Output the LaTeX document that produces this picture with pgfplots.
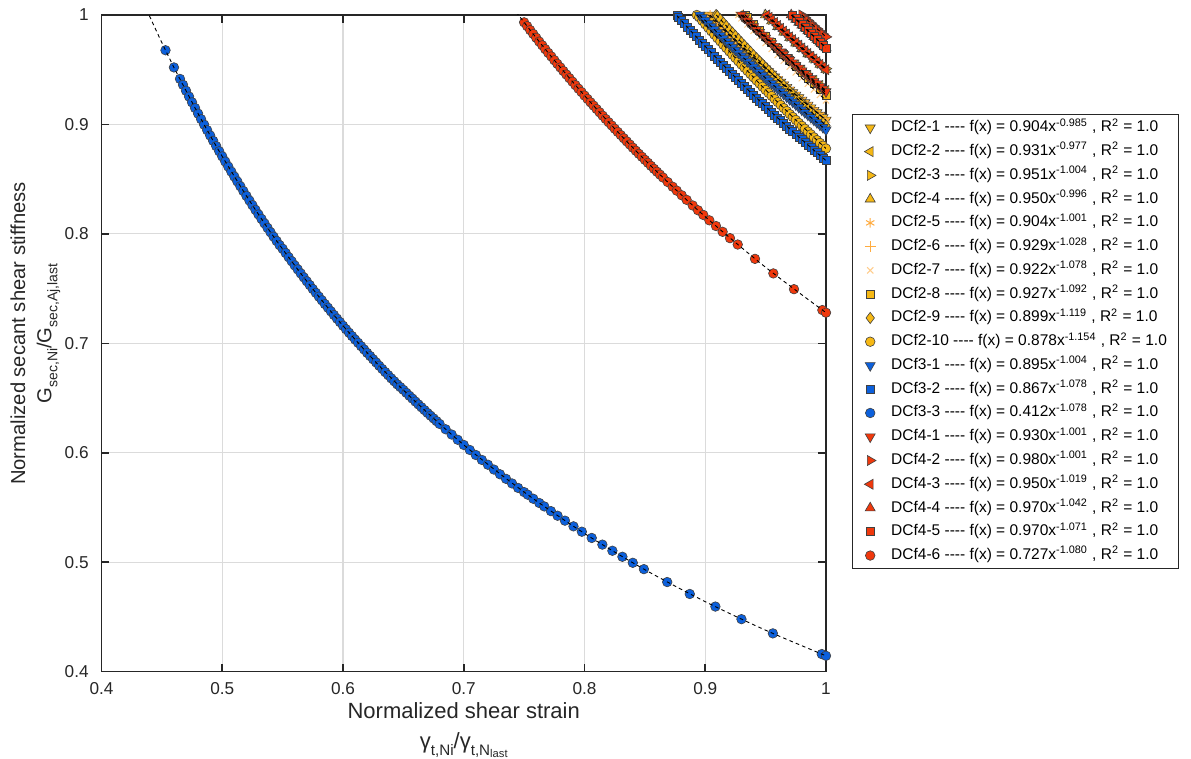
\documentclass[border=0pt]{standalone}
\usepackage{fontspec}
\setmainfont{Liberation Sans}
\usepackage{pgfplots}
\pgfplotsset{compat=1.18}
\usepackage{pgfplotstable}

\definecolor{cyel}{RGB}{246,184,20}
\definecolor{corg}{RGB}{255,172,64}
\definecolor{cblu}{RGB}{12,96,220}
\definecolor{cred}{RGB}{240,56,12}
\definecolor{caxis}{RGB}{38,38,38}

\newcommand\sub[1]{\raisebox{-0.3em}{\fontsize{7.6}{8}\selectfont #1}}
\newcommand\subs[1]{\raisebox{-0.3em}{\fontsize{7}{8}\selectfont #1}}
\newcommand\subsub[1]{\raisebox{-0.15em}{\fontsize{5.6}{6}\selectfont #1}}
\newcommand\dd{-{}-{}-{}-}
\newcommand\ent[3]{#1 \dd{} f(x) = #2x\textsuperscript{#3} , R\textsuperscript{2} = 1.0}

% DCf2-1
\pgfplotstableread{
x y
0.9026 1.0000
0.905 0.9975
0.9075 0.9948
0.910 0.9920
0.9125 0.9894
0.915 0.9867
0.9175 0.9841
0.920 0.9814
0.9225 0.9788
0.925 0.9762
0.9275 0.9736
0.930 0.9710
0.9325 0.9685
0.935 0.9659
0.9375 0.9634
0.940 0.9608
0.9425 0.9583
0.945 0.9558
0.9475 0.9533
0.950 0.9508
0.9525 0.9484
0.955 0.9460
0.9575 0.9436
0.960 0.9411
0.9625 0.9387
0.965 0.9363
0.9675 0.9339
0.970 0.9315
0.9725 0.9292
0.975 0.9269
0.9775 0.9246
0.980 0.9222
0.9825 0.9199
0.985 0.9176
0.9875 0.9153
0.990 0.9130
0.9925 0.9108
0.995 0.9085
0.9975 0.9063
1.000 0.9040
}\tabA
% DCf2-2
\pgfplotstableread{
x y
0.9294 1.0000
0.935 0.9942
0.940 0.9890
0.945 0.9839
0.950 0.9788
0.955 0.9739
0.960 0.9689
0.965 0.9640
0.970 0.9591
0.975 0.9543
0.980 0.9496
0.985 0.9449
0.990 0.9402
0.995 0.9356
1.000 0.9310
}\tabB
% DCf2-3
\pgfplotstableread{
x y
0.9512 1.0000
0.955 0.9960
0.960 0.9908
0.965 0.9857
0.970 0.9805
0.975 0.9755
0.980 0.9705
0.985 0.9656
0.990 0.9606
0.995 0.9558
1.000 0.9510
}\tabC
% DCf2-4
\pgfplotstableread{
x y
0.9498 1.0000
0.955 0.9946
0.960 0.9894
0.965 0.9843
0.970 0.9793
0.975 0.9743
0.980 0.9693
0.985 0.9645
0.990 0.9596
0.995 0.9548
1.000 0.9500
}\tabD
% DCf2-5
\pgfplotstableread{
x y
0.904 1.0000
0.910 0.9935
0.915 0.9881
0.920 0.9827
0.925 0.9774
0.930 0.9721
0.935 0.9669
0.940 0.9618
0.945 0.9567
0.950 0.9516
0.955 0.9467
0.960 0.9417
0.965 0.9369
0.970 0.9320
0.975 0.9273
0.980 0.9225
0.985 0.9178
0.990 0.9131
0.995 0.9086
1.000 0.9040
}\tabE
% DCf2-6
\pgfplotstableread{
x y
0.931 1.0000
0.935 0.9955
0.940 0.9900
0.945 0.9847
0.950 0.9793
0.955 0.9741
0.960 0.9688
0.965 0.9637
0.970 0.9586
0.975 0.9536
0.980 0.9485
0.985 0.9436
0.990 0.9386
0.995 0.9338
1.000 0.9290
}\tabF
% DCf2-7
\pgfplotstableread{
x y
0.9275 1.0000
0.930 0.9970
0.935 0.9913
0.940 0.9856
0.945 0.9800
0.950 0.9744
0.955 0.9690
0.960 0.9635
0.965 0.9582
0.970 0.9528
0.975 0.9476
0.980 0.9423
0.985 0.9372
0.990 0.9320
0.995 0.9270
1.000 0.9220
}\tabG
% DCf2-8
\pgfplotstableread{
x y
0.933 1.0000
0.935 0.9977
0.940 0.9918
0.945 0.9861
0.950 0.9804
0.955 0.9749
0.960 0.9693
0.965 0.9639
0.970 0.9584
0.975 0.9531
0.980 0.9477
0.985 0.9425
0.990 0.9372
0.995 0.9321
1.000 0.9270
}\tabH
% DCf2-9
\pgfplotstableread{
x y
0.909 1.0000
0.910 0.9991
0.9125 0.9961
0.915 0.9930
0.9175 0.9900
0.920 0.9869
0.9225 0.9840
0.925 0.9810
0.9275 0.9781
0.930 0.9751
0.9325 0.9722
0.935 0.9693
0.9375 0.9664
0.940 0.9634
0.9425 0.9606
0.945 0.9578
0.9475 0.9550
0.950 0.9521
0.9525 0.9494
0.955 0.9466
0.9575 0.9438
0.960 0.9410
0.9625 0.9383
0.965 0.9356
0.9675 0.9329
0.970 0.9302
0.9725 0.9276
0.975 0.9249
0.9775 0.9223
0.980 0.9196
0.9825 0.9170
0.985 0.9144
0.9875 0.9118
0.990 0.9092
0.9925 0.9067
0.995 0.9041
0.9975 0.9016
1.000 0.8990
}\tabI
% DCf2-10
\pgfplotstableread{
x y
0.893 1.0000
0.895 0.9980
0.8975 0.9948
0.900 0.9915
0.9025 0.9884
0.905 0.9852
0.9075 0.9821
0.910 0.9789
0.9125 0.9759
0.915 0.9728
0.9175 0.9698
0.920 0.9667
0.9225 0.9637
0.925 0.9607
0.9275 0.9577
0.930 0.9547
0.9325 0.9518
0.935 0.9489
0.9375 0.9460
0.940 0.9430
0.9425 0.9402
0.945 0.9373
0.9475 0.9344
0.950 0.9315
0.9525 0.9288
0.955 0.9260
0.9575 0.9232
0.960 0.9204
0.9625 0.9177
0.965 0.9149
0.9675 0.9122
0.970 0.9094
0.9725 0.9068
0.975 0.9041
0.9775 0.9014
0.980 0.8987
0.9825 0.8961
0.985 0.8935
0.9875 0.8909
0.990 0.8882
0.9925 0.8857
0.995 0.8831
0.9975 0.8806
1.000 0.8780
}\tabJ
% DCf3-1
\pgfplotstableread{
x y
0.8953 1.0000
0.8975 0.9976
0.900 0.9949
0.9025 0.9922
0.905 0.9894
0.9075 0.9867
0.910 0.9839
0.9125 0.9812
0.915 0.9785
0.9175 0.9758
0.920 0.9731
0.9225 0.9705
0.925 0.9679
0.9275 0.9653
0.930 0.9626
0.9325 0.9601
0.935 0.9575
0.9375 0.9550
0.940 0.9524
0.9425 0.9499
0.945 0.9474
0.9475 0.9449
0.950 0.9423
0.9525 0.9399
0.955 0.9374
0.9575 0.9349
0.960 0.9324
0.9625 0.9300
0.965 0.9276
0.9675 0.9252
0.970 0.9228
0.9725 0.9205
0.975 0.9181
0.9775 0.9157
0.980 0.9133
0.9825 0.9110
0.985 0.9087
0.9875 0.9064
0.990 0.9041
0.9925 0.9018
0.995 0.8995
0.9975 0.8973
1.000 0.8950
}\tabK
% DCf3-2
\pgfplotstableread{
x y
0.8765 0.9994
0.878 0.9976
0.880 0.9951
0.8825 0.9921
0.885 0.9891
0.8875 0.9861
0.890 0.9830
0.8925 0.9801
0.895 0.9772
0.8975 0.9743
0.900 0.9713
0.9025 0.9685
0.905 0.9656
0.9075 0.9627
0.910 0.9598
0.9125 0.9570
0.915 0.9542
0.9175 0.9514
0.920 0.9485
0.9225 0.9458
0.925 0.9430
0.9275 0.9403
0.930 0.9375
0.9325 0.9349
0.935 0.9322
0.9375 0.9295
0.940 0.9268
0.9425 0.9242
0.945 0.9216
0.9475 0.9190
0.950 0.9163
0.9525 0.9138
0.955 0.9112
0.9575 0.9086
0.960 0.9060
0.9625 0.9035
0.965 0.9010
0.9675 0.8985
0.970 0.8959
0.9725 0.8935
0.975 0.8910
0.9775 0.8886
0.980 0.8861
0.9825 0.8837
0.985 0.8813
0.9875 0.8789
0.990 0.8764
0.9925 0.8741
0.995 0.8717
0.9975 0.8694
1.000 0.8670
}\tabL
% DCf3-3
\pgfplotstableread{
x y
0.453 0.9678
0.460 0.9521
0.465 0.9416
0.4675 0.9362
0.470 0.9308
0.4725 0.9255
0.475 0.9202
0.4775 0.9150
0.480 0.9099
0.4825 0.9048
0.485 0.8998
0.4875 0.8948
0.490 0.8899
0.4925 0.8850
0.495 0.8802
0.4975 0.8755
0.500 0.8708
0.5025 0.8661
0.505 0.8615
0.5075 0.8569
0.510 0.8524
0.5125 0.8479
0.515 0.8435
0.5175 0.8391
0.520 0.8348
0.5225 0.8305
0.525 0.8262
0.5275 0.8220
0.530 0.8178
0.5325 0.8137
0.535 0.8096
0.5375 0.8055
0.540 0.8015
0.5425 0.7975
0.545 0.7936
0.5475 0.7897
0.550 0.7864
0.5525 0.7826
0.555 0.7787
0.5575 0.7750
0.560 0.7712
0.5625 0.7676
0.565 0.7639
0.5675 0.7603
0.570 0.7567
0.5725 0.7532
0.575 0.7496
0.5775 0.7462
0.580 0.7427
0.5825 0.7393
0.585 0.7359
0.5875 0.7326
0.590 0.7292
0.5925 0.7259
0.595 0.7226
0.5975 0.7194
0.600 0.7161
0.6025 0.7129
0.605 0.7097
0.6075 0.7066
0.610 0.7035
0.6125 0.7005
0.615 0.6974
0.6175 0.6944
0.620 0.6913
0.6225 0.6884
0.625 0.6854
0.6275 0.6825
0.630 0.6795
0.6325 0.6766
0.635 0.6737
0.6375 0.6709
0.640 0.6680
0.6425 0.6653
0.645 0.6625
0.6475 0.6600
0.650 0.6575
0.6525 0.6548
0.655 0.6521
0.6575 0.6495
0.660 0.6468
0.6625 0.6442
0.665 0.6416
0.6675 0.6390
0.670 0.6364
0.6725 0.6339
0.675 0.6314
0.6775 0.6289
0.680 0.6264
0.685 0.6215
0.690 0.6167
0.695 0.6119
0.700 0.6072
0.705 0.6026
0.710 0.5980
0.715 0.5935
0.720 0.5891
0.725 0.5847
0.730 0.5804
0.735 0.5762
0.740 0.5720
0.745 0.5679
0.750 0.5641
0.753 0.5617
0.7576 0.5580
0.7626 0.5541
0.7667 0.5510
0.7722 0.5467
0.7777 0.5425
0.7838 0.5380
0.7909 0.5328
0.7978 0.5279
0.806 0.5222
0.8148 0.5161
0.8231 0.5105
0.8314 0.5050
0.840 0.4995
0.8492 0.4937
0.8685 0.4819
0.8872 0.4710
0.9084 0.4595
0.930 0.4480
0.956 0.4350
0.9965 0.4161
1.000 0.4145
}\tabM
\pgfplotstableread{
x y
0.435 1.0107
0.44 0.9985
0.45 0.9747
0.46 0.9521
0.47 0.9308
0.48 0.9099
0.49 0.8899
0.50 0.8708
0.52 0.8348
0.54 0.8015
0.56 0.7712
0.58 0.7427
0.60 0.7161
0.63 0.6795
0.66 0.6468
0.70 0.6072
0.75 0.5641
0.80 0.5263
0.85 0.4932
0.90 0.4640
0.95 0.4379
1.00 0.4145
}\fitM
% DCf4-1
\pgfplotstableread{
x y
0.930 1.0000
0.9325 0.9974
0.935 0.9947
0.9375 0.9921
0.940 0.9894
0.9425 0.9868
0.945 0.9842
0.9475 0.9816
0.950 0.9790
0.9525 0.9765
0.955 0.9739
0.9575 0.9714
0.960 0.9688
0.9625 0.9663
0.965 0.9638
0.9675 0.9613
0.970 0.9588
0.9725 0.9564
0.975 0.9539
0.9775 0.9515
0.980 0.9490
0.9825 0.9466
0.985 0.9442
0.9875 0.9418
0.990 0.9394
0.9925 0.9371
0.995 0.9347
0.9975 0.9324
1.000 0.9300
}\tabN
% DCf4-2
\pgfplotstableread{
x y
0.980 1.0000
0.9825 0.9975
0.985 0.9950
0.9875 0.9925
0.990 0.9899
0.9925 0.9875
0.995 0.9850
0.9975 0.9825
1.000 0.9800
}\tabO
% DCf4-3
\pgfplotstableread{
x y
0.951 1.0000
0.953 0.9979
0.955 0.9957
0.9575 0.9931
0.960 0.9904
0.9625 0.9878
0.965 0.9852
0.9675 0.9826
0.970 0.9800
0.9725 0.9775
0.975 0.9749
0.9775 0.9724
0.980 0.9698
0.9825 0.9673
0.985 0.9648
0.9875 0.9623
0.990 0.9598
0.9925 0.9574
0.995 0.9549
0.9975 0.9525
1.000 0.9500
}\tabP
% DCf4-4
\pgfplotstableread{
x y
0.9712 1.0000
0.973 0.9981
0.975 0.9960
0.9775 0.9933
0.980 0.9906
0.9825 0.9880
0.985 0.9854
0.9875 0.9828
0.990 0.9802
0.9925 0.9777
0.995 0.9751
0.9975 0.9726
1.000 0.9700
}\tabQ
% DCf4-5
\pgfplotstableread{
x y
0.972 1.0000
0.975 0.9967
0.9775 0.9940
0.980 0.9912
0.9825 0.9886
0.985 0.9859
0.9875 0.9832
0.990 0.9805
0.9925 0.9779
0.995 0.9753
0.9975 0.9727
1.000 0.9700
}\tabR
% DCf4-6
\pgfplotstableread{
x y
0.7500 0.9933
0.7525 0.9898
0.7550 0.9862
0.7575 0.9827
0.7600 0.9792
0.7625 0.9757
0.7650 0.9723
0.7675 0.9688
0.7700 0.9654
0.7725 0.9621
0.7750 0.9587
0.7775 0.9554
0.7800 0.9521
0.7825 0.9488
0.7850 0.9456
0.7875 0.9423
0.7900 0.9391
0.7925 0.9359
0.7950 0.9327
0.7975 0.9296
0.8000 0.9264
0.8025 0.9233
0.8050 0.9202
0.8075 0.9172
0.8100 0.9141
0.8125 0.9111
0.8150 0.9080
0.8175 0.9050
0.8200 0.9020
0.8225 0.8991
0.8250 0.8961
0.8275 0.8932
0.8300 0.8903
0.8325 0.8874
0.8350 0.8845
0.8375 0.8817
0.8400 0.8788
0.8425 0.8760
0.8450 0.8732
0.8475 0.8705
0.8500 0.8677
0.8525 0.8650
0.8550 0.8622
0.8575 0.8595
0.8600 0.8568
0.8625 0.8542
0.8650 0.8515
0.8689 0.8474
0.8730 0.8431
0.8764 0.8395
0.8805 0.8353
0.8846 0.8311
0.8896 0.8260
0.8940 0.8216
0.8984 0.8173
0.9034 0.8124
0.9089 0.8072
0.9144 0.8019
0.9205 0.7961
0.9269 0.7903
0.9412 0.7772
0.9564 0.7639
0.9735 0.7495
0.9970 0.7304
1.0000 0.7280
}\tabS
\pgfplotstableread{
x y
0.74 1.0078
0.75 0.9933
0.77 0.9654
0.80 0.9264
0.83 0.8903
0.86 0.8568
0.90 0.8157
0.95 0.7695
1.00 0.7280
}\fitS

\pgfplotsset{
  mk/.style n args={3}{only marks, color=#1, mark=#2, mark size=#3,
    mark options={fill=#1, draw=black!75, line width=0.3pt}},
  lmk/.style n args={2}{only marks, color=corg, mark=#1, mark size=#2,
    mark options={line width=0.5pt}},
  fitln/.style={black, line width=0.45pt, dash pattern=on 1.8pt off 1.6pt, forget plot},
}

\begin{document}
\begin{tikzpicture}
\useasboundingbox (-50.75pt,-43.65pt) rectangle (544.75pt,335.85pt);
\begin{axis}[
  at={(0,0)}, anchor=south west,
  scale only axis, width=362.25pt, height=328.35pt,
  xmin=0.4, xmax=1, ymin=0.4, ymax=1,
  xtick={0.4,0.5,0.6,0.7,0.8,0.9,1},
  ytick={0.4,0.5,0.6,0.7,0.8,0.9,1},
  grid=major, major grid style={line width=0.6pt, color=black!14},
  axis line style={line width=0.8pt, color=caxis},
  tick style={line width=0.8pt, color=caxis},
  tick align=inside, major tick length=4pt,
  xtick pos=both, ytick pos=both,
  clip mode=individual,
  /pgf/number format/assume math mode=true,
  ticklabel style={font=\fontsize{8.6}{10}\selectfont, color=caxis},
  xticklabel style={inner sep=0pt, yshift=-5.15pt},
  yticklabel style={inner sep=0pt, xshift=-6.25pt},
  xlabel={Normalized shear strain\\γ\sub{t,Ni}/γ\sub{t,N\subsub{last}}},
  xlabel style={at={(rel axis cs:0.5,0)}, anchor=north, yshift=-15.4pt,
    inner sep=0pt, align=center, font=\fontsize{11}{14.8}\selectfont, color=caxis},
  ylabel={Normalized secant shear stiffness\\G\subs{sec,Ni}/G\subs{sec,Aj,last}},
  ylabel style={at={(rel axis cs:-0.1263,0.515)}, anchor=north, rotate=0,
    inner sep=0pt, align=center, font=\fontsize{10.1}{13.2}\selectfont, color=caxis},
  legend style={at={(rel axis cs:1.0355,0.849)}, anchor=north west,
    draw=caxis, line width=0.5pt, fill=white,
    font=\fontsize{7.75}{9.3}\selectfont, inner xsep=6pt, inner ysep=2.6pt,
    row sep=3.88pt, column sep=0pt,
    nodes={inner sep=0pt, text height=6pt, text depth=2pt}},
  legend cell align=left,
  legend image code/.code={%
    \path[#1, draw=none] plot coordinates {(3pt,0pt)};
    \path[draw=none, fill=none] (0pt,0pt) -- (13.5pt,0pt);},
]
\addplot[mk={cyel}{triangle*}{2.9pt}, every mark/.append style={rotate=180}] table {\tabA};
\addlegendentry{\ent{DCf2-1}{0.904}{-0.985}}
\addplot[mk={cyel}{triangle*}{2.9pt}, every mark/.append style={rotate=90}] table {\tabB};
\addlegendentry{\ent{DCf2-2}{0.931}{-0.977}}
\addplot[mk={cyel}{triangle*}{2.9pt}, every mark/.append style={rotate=-90}] table {\tabC};
\addlegendentry{\ent{DCf2-3}{0.951}{-1.004}}
\addplot[mk={cyel}{triangle*}{2.9pt}] table {\tabD};
\addlegendentry{\ent{DCf2-4}{0.950}{-0.996}}
\addplot[lmk={asterisk}{2.4pt}] table {\tabE};
\addlegendentry{\ent{DCf2-5}{0.904}{-1.001}}
\addplot[lmk={+}{2.7pt}] table {\tabF};
\addlegendentry{\ent{DCf2-6}{0.929}{-1.028}}
\addplot[lmk={x}{2.2pt}, color=corg!60] table {\tabG};
\addlegendentry{\ent{DCf2-7}{0.922}{-1.078}}
\addplot[mk={cyel}{square*}{2pt}] table {\tabH};
\addlegendentry{\ent{DCf2-8}{0.927}{-1.092}}
\addplot[mk={cyel}{diamond*}{2.8pt}] table {\tabI};
\addlegendentry{\ent{DCf2-9}{0.899}{-1.119}}
\addplot[mk={cyel}{*}{2.4pt}] table {\tabJ};
\addlegendentry{\ent{DCf2-10}{0.878}{-1.154}}
\addplot[mk={cblu}{triangle*}{2.9pt}, every mark/.append style={rotate=180}] table {\tabK};
\addlegendentry{\ent{DCf3-1}{0.895}{-1.004}}
\addplot[mk={cblu}{square*}{2pt}] table {\tabL};
\addlegendentry{\ent{DCf3-2}{0.867}{-1.078}}
\addplot[mk={cblu}{*}{2.4pt}] table {\tabM};
\addlegendentry{\ent{DCf3-3}{0.412}{-1.078}}
\addplot[mk={cred}{triangle*}{2.9pt}, every mark/.append style={rotate=180}] table {\tabN};
\addlegendentry{\ent{DCf4-1}{0.930}{-1.001}}
\addplot[mk={cred}{triangle*}{2.9pt}, every mark/.append style={rotate=-90}] table {\tabO};
\addlegendentry{\ent{DCf4-2}{0.980}{-1.001}}
\addplot[mk={cred}{triangle*}{2.9pt}, every mark/.append style={rotate=90}] table {\tabP};
\addlegendentry{\ent{DCf4-3}{0.950}{-1.019}}
\addplot[mk={cred}{triangle*}{2.9pt}] table {\tabQ};
\addlegendentry{\ent{DCf4-4}{0.970}{-1.042}}
\addplot[mk={cred}{square*}{2pt}] table {\tabR};
\addlegendentry{\ent{DCf4-5}{0.970}{-1.071}}
\addplot[mk={cred}{*}{2.4pt}] table {\tabS};
\addlegendentry{\ent{DCf4-6}{0.727}{-1.080}}
% fitted power curves, drawn over the markers
\addplot[fitln] table {\tabA};
\addplot[fitln] table {\tabB};
\addplot[fitln] table {\tabC};
\addplot[fitln] table {\tabD};
\addplot[fitln] table {\tabE};
\addplot[fitln] table {\tabF};
\addplot[fitln] table {\tabG};
\addplot[fitln] table {\tabH};
\addplot[fitln] table {\tabI};
\addplot[fitln] table {\tabJ};
\addplot[fitln] table {\tabK};
\addplot[fitln] table {\tabL};
\addplot[fitln, smooth] table {\fitM};
\addplot[fitln] table {\tabN};
\addplot[fitln] table {\tabO};
\addplot[fitln] table {\tabP};
\addplot[fitln] table {\tabQ};
\addplot[fitln] table {\tabR};
\addplot[fitln, smooth] table {\fitS};
\end{axis}
\end{tikzpicture}
\end{document}
